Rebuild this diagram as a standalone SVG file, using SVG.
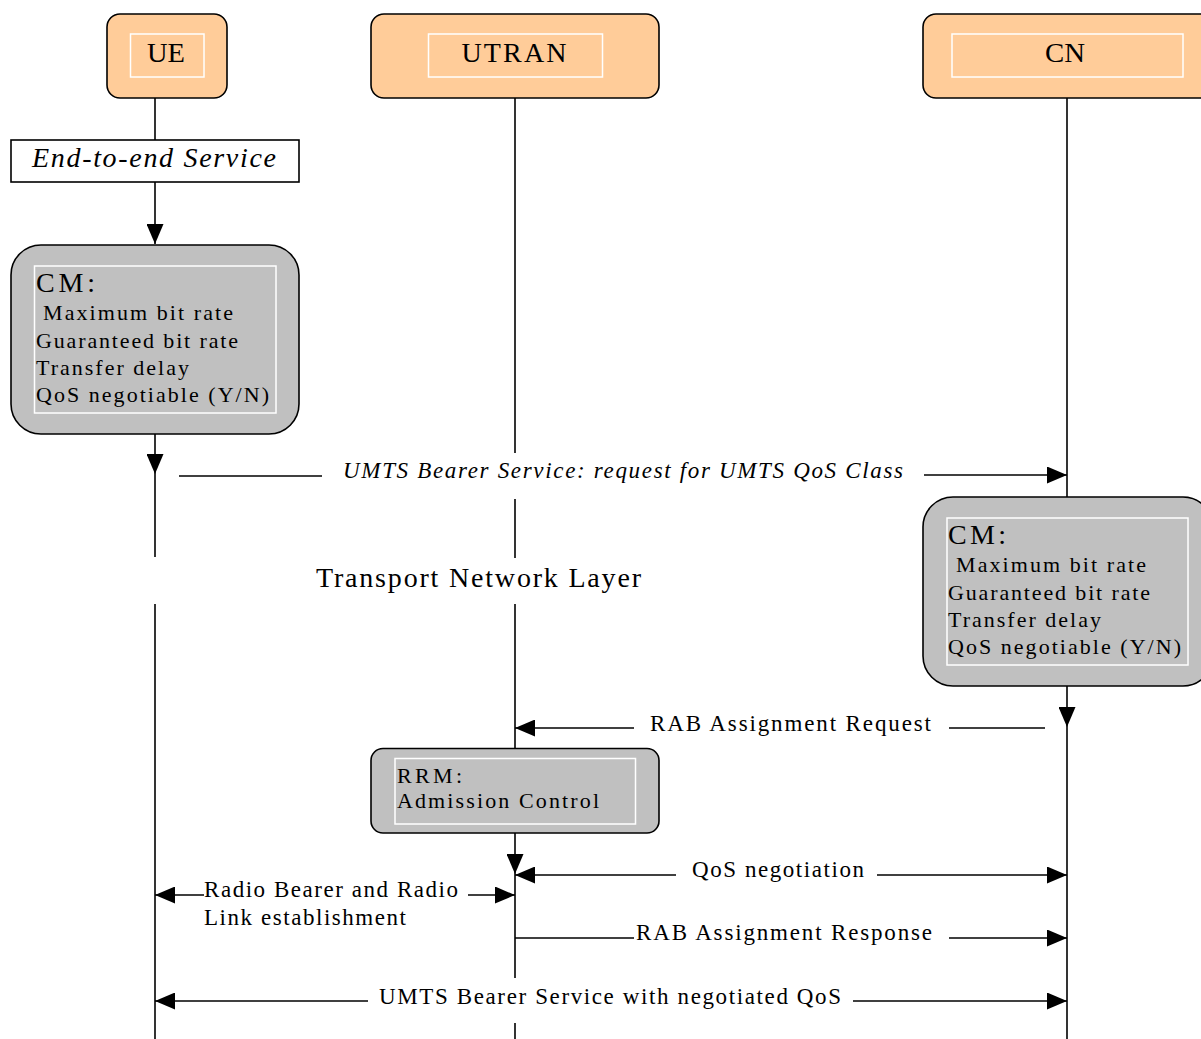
<svg xmlns="http://www.w3.org/2000/svg" width="1201" height="1039" viewBox="0 0 1201 1039">
  <style>
    text { font-family: "Liberation Serif", "Times New Roman", serif; fill: #000; }
    .entity { fill: #FFCC99; stroke: #000; stroke-width: 1.6; }
    .proc { fill: #C0C0C0; stroke: #000; stroke-width: 1.6; }
    .inner { fill: none; stroke: #FFFFFF; stroke-width: 1.5; }
    .line { fill: none; stroke: #000; stroke-width: 1.6; }
    .name { font-size: 28px; }
    .head { font-size: 28px; }
    .item { font-size: 22px; }
    .msg { font-size: 23px; }
    .it { font-style: italic; }
  </style>
  <defs>
    <marker id="arrow" markerUnits="userSpaceOnUse" markerWidth="20" markerHeight="17" refX="20" refY="8.5" orient="auto">
      <path d="M0,0 L20,8.5 L0,17 Z" fill="#000"/>
    </marker>
  </defs>

  <rect width="1201" height="1039" fill="#FFFFFF"/>

  <!-- lifelines and message arrows -->
  <g id="connectors">
    <!-- UE lifeline -->
    <path class="line" d="M155,98 V140"/>
    <path class="line" d="M155,182 V244" marker-end="url(#arrow)"/>
    <path class="line" d="M155,434 V474" marker-end="url(#arrow)"/>
    <path class="line" d="M155,474 V557"/>
    <path class="line" d="M155,604 V1039"/>
    <!-- UTRAN lifeline -->
    <path class="line" d="M515,98 V453"/>
    <path class="line" d="M515,499 V558"/>
    <path class="line" d="M515,604 V748"/>
    <path class="line" d="M515,833 V874" marker-end="url(#arrow)"/>
    <path class="line" d="M515,874 V978"/>
    <path class="line" d="M515,1023 V1039"/>
    <!-- CN lifeline -->
    <path class="line" d="M1067,98 V497"/>
    <path class="line" d="M1067,686 V727" marker-end="url(#arrow)"/>
    <path class="line" d="M1067,727 V1039"/>

    <!-- UMTS bearer service request -->
    <path class="line" d="M179,476 H322"/>
    <path class="line" d="M924,475 H1067" marker-end="url(#arrow)"/>
    <!-- RAB assignment request -->
    <path class="line" d="M634,728 H515" marker-end="url(#arrow)"/>
    <path class="line" d="M949,728 H1045"/>
    <!-- QoS negotiation -->
    <path class="line" d="M676,875 H515" marker-end="url(#arrow)"/>
    <path class="line" d="M877,875 H1067" marker-end="url(#arrow)"/>
    <!-- radio bearer and radio link establishment -->
    <path class="line" d="M204,895 H155" marker-end="url(#arrow)"/>
    <path class="line" d="M468,895 H515" marker-end="url(#arrow)"/>
    <!-- RAB assignment response -->
    <path class="line" d="M515,938 H634"/>
    <path class="line" d="M949,938 H1067" marker-end="url(#arrow)"/>
    <!-- bearer service with negotiated QoS -->
    <path class="line" d="M368,1001 H155" marker-end="url(#arrow)"/>
    <path class="line" d="M853,1001 H1067" marker-end="url(#arrow)"/>
  </g>

  <!-- entities -->
  <g id="ue">
    <rect class="entity" x="107" y="14" width="120" height="84" rx="13"/>
    <rect class="inner" x="130.5" y="34" width="73.5" height="43"/>
    <text class="name" x="166" y="62" text-anchor="middle" textLength="38" lengthAdjust="spacingAndGlyphs">UE</text>
  </g>
  <g id="utran">
    <rect class="entity" x="371" y="14" width="288" height="84" rx="13"/>
    <rect class="inner" x="428.5" y="34" width="174" height="43"/>
    <text class="name" x="514" y="62" text-anchor="middle" textLength="105" lengthAdjust="spacing">UTRAN</text>
  </g>
  <g id="cn">
    <rect class="entity" x="923" y="14" width="290" height="84" rx="13"/>
    <rect class="inner" x="952" y="34" width="231" height="43"/>
    <text class="name" x="1065" y="62" text-anchor="middle" textLength="40" lengthAdjust="spacingAndGlyphs">CN</text>
  </g>

  <!-- end-to-end service request -->
  <g id="end-to-end">
    <rect x="11" y="140" width="288" height="42" fill="#FFFFFF" stroke="#000" stroke-width="1.6"/>
    <text class="head it" x="32" y="167" textLength="244" lengthAdjust="spacing">End-to-end Service</text>
  </g>

  <!-- connection management in the UE -->
  <g id="cm-ue">
    <rect class="proc" x="11" y="245" width="288" height="189" rx="30"/>
    <rect class="inner" x="34.5" y="266" width="241.5" height="147"/>
    <text class="head" x="36" y="292" textLength="59" lengthAdjust="spacing">CM:</text>
    <text class="item" x="43" y="320" textLength="190" lengthAdjust="spacing">Maximum bit rate</text>
    <text class="item" x="36" y="347.5" textLength="202" lengthAdjust="spacing">Guaranteed bit rate</text>
    <text class="item" x="36" y="375" textLength="153" lengthAdjust="spacing">Transfer delay</text>
    <text class="item" x="36" y="402" textLength="233" lengthAdjust="spacing">QoS negotiable (Y/N)</text>
  </g>

  <!-- connection management in the CN -->
  <g id="cm-cn">
    <rect class="proc" x="923" y="497" width="290" height="189" rx="30"/>
    <rect class="inner" x="947" y="518" width="241" height="147"/>
    <text class="head" x="948" y="544" textLength="58" lengthAdjust="spacing">CM:</text>
    <text class="item" x="956" y="572" textLength="190" lengthAdjust="spacing">Maximum bit rate</text>
    <text class="item" x="948" y="599.5" textLength="202" lengthAdjust="spacing">Guaranteed bit rate</text>
    <text class="item" x="948" y="627" textLength="153" lengthAdjust="spacing">Transfer delay</text>
    <text class="item" x="948" y="654" textLength="233" lengthAdjust="spacing">QoS negotiable (Y/N)</text>
  </g>

  <!-- radio resource management in UTRAN -->
  <g id="rrm">
    <rect class="proc" x="371" y="748.5" width="288" height="84.5" rx="12"/>
    <rect class="inner" x="395" y="758.5" width="240.5" height="65.5"/>
    <text class="item" x="397" y="782.5" textLength="65" lengthAdjust="spacing">RRM:</text>
    <text class="item" x="397" y="807.5" textLength="202" lengthAdjust="spacing">Admission Control</text>
  </g>

  <!-- message labels -->
  <g id="labels">
    <text class="msg it" x="343" y="477.5" textLength="560" lengthAdjust="spacing">UMTS Bearer Service: request for UMTS QoS Class</text>
    <text class="name" x="316" y="587" textLength="325" lengthAdjust="spacing">Transport Network Layer</text>
    <text class="msg" x="650" y="731" textLength="281" lengthAdjust="spacing">RAB Assignment Request</text>
    <text class="msg" x="692" y="877" textLength="172" lengthAdjust="spacing">QoS negotiation</text>
    <text class="msg" x="204" y="897" textLength="254" lengthAdjust="spacing">Radio Bearer and Radio</text>
    <text class="msg" x="204" y="924.5" textLength="202" lengthAdjust="spacing">Link establishment</text>
    <text class="msg" x="636" y="939.5" textLength="296" lengthAdjust="spacing">RAB Assignment Response</text>
    <text class="msg" x="379" y="1003.5" textLength="462" lengthAdjust="spacing">UMTS Bearer Service with negotiated QoS</text>
  </g>
</svg>
